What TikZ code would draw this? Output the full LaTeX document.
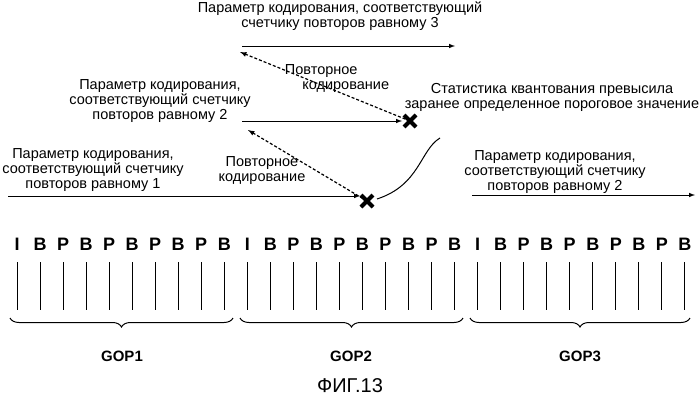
\documentclass[tikz,border=0pt]{standalone}
\usepackage{fontspec}
\setmainfont{Liberation Sans}
\usetikzlibrary{decorations.pathreplacing,calc}
\tikzset{
  lbl/.style={align=center, font=\fontsize{14.5}{15}\selectfont, inner sep=0pt},
  frm/.style={font=\fontsize{18}{20}\selectfont\bfseries, inner sep=0pt},
  gop/.style={font=\fontsize{15}{17}\selectfont\bfseries, inner sep=0pt},
  xmark/.style={line width=4pt},
  dsh/.style={densely dashed, line width=1.2pt, -latex},
  brc/.style={decorate,decoration={brace,mirror,amplitude=9pt}, line width=1pt},
}
\begin{document}
\begin{tikzpicture}[x=1pt,y=-1pt, line width=1pt]
\useasboundingbox (0,0) rectangle (699,402);
% кадры
\foreach \t [count=\i from 0] in {I,B,P,B,P,B,P,B,P,B,I,B,P,B,P,B,P,B,P,B,I,B,P,B,P,B,P,B,P,B}{
  \node[frm] (f\i) at ({17+\i*23.03},244) {\t};
  \draw ({17+\i*23.03},262) -- ({17+\i*23.03},310);
}
% GOP
\draw[brc] (10,318) -- (233,318);
\draw[brc] (240,318) -- (463,318);
\draw[brc] (470,318) -- (690,318);
\node[gop] (gop1) at (122,356) {GOP1};
\node[gop] (gop2) at (351,356) {GOP2};
\node[gop] (gop3) at (580,356) {GOP3};
\node[lbl, font=\fontsize{20}{22}\selectfont] (fig) at (350,386) {ФИГ.13};
% параметры
\node[lbl] (p1) at (93,170) {Параметр кодирования,\\соответствующий счетчику\\повторов равному 1};
\node[lbl] (p2) at (160,101) {Параметр кодирования,\\соответствующий счетчику\\повторов равному 2};
\node[lbl] (p3) at (340,16) {Параметр кодирования, соответствующий\\счетчику повторов равному 3};
\node[lbl] (p4) at (555,172) {Параметр кодирования,\\соответствующий счетчику\\повторов равному 2};
\node[lbl] (r1) at (262,171) {Повторное\\кодирование};
\node[lbl, align=left] (r2) at (337,79) {Повторное\\\hspace{1.2em}кодирование};
\node[lbl] (st) at (552,97) {Статистика квантования превысила\\заранее определенное пороговое значение};
% стрелки
\coordinate (x1) at (367,201);
\coordinate (x2) at (410,121);
\draw[-latex] (8,196) -- (360,196);
\draw[-latex] (242,121) -- (402,121);
\draw[-latex] (242,46) -- (455,46);
\draw[-latex] (472,195) -- (695,195);
\draw[dsh] (x1) -- (248,130);
\draw[dsh] (x2) -- (240,52);
\draw[xmark] ($(x1)+(-6,-6)$) -- ($(x1)+(6,6)$) ($(x1)+(-6,6)$) -- ($(x1)+(6,-6)$);
\draw[xmark] ($(x2)+(-6,-6)$) -- ($(x2)+(6,6)$) ($(x2)+(-6,6)$) -- ($(x2)+(6,-6)$);
\draw (377,199) .. controls (420,185) and (420,150) .. (440,138);
\end{tikzpicture}
\end{document}
